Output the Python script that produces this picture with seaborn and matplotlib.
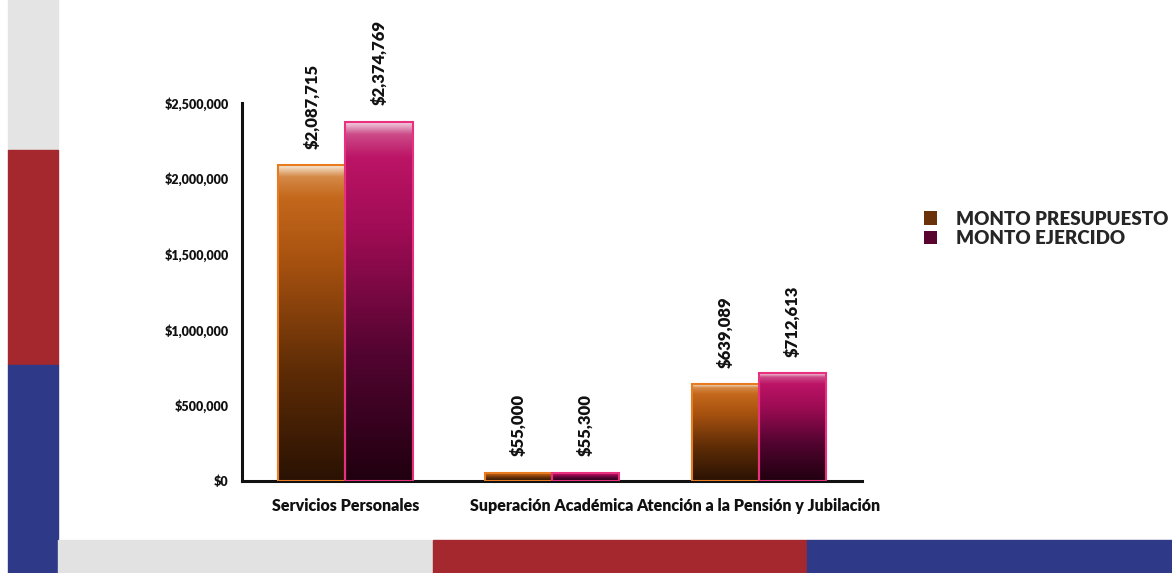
import numpy as np
import pandas as pd
import seaborn as sns
import matplotlib.pyplot as plt
from matplotlib.patches import Rectangle
from matplotlib.colors import LinearSegmentedColormap
from matplotlib.ticker import FuncFormatter, FixedLocator

categorias = ["Servicios Personales", "Superación Académica", "Atención a la Pensión y Jubilación"]
series = ["MONTO PRESUPUESTO", "MONTO EJERCIDO"]
presupuesto = [2087715, 55000, 639089]
ejercido = [2374769, 55300, 712613]

df = pd.DataFrame({
    "categoria": categorias * 2,
    "serie": [series[0]] * 3 + [series[1]] * 3,
    "monto": presupuesto + ejercido,
})

sns.set_style("white")
plt.rcParams["font.family"] = ["Lato", "DejaVu Sans"]

fig = plt.figure(figsize=(11.72, 5.73), dpi=100)
fig.patch.set_facecolor("white")

# franjas decorativas del fondo
for y0, h, c in [(0.738, 0.262, "#e4e4e4"), (0.363, 0.375, "#a5282e"), (0.0, 0.363, "#2e3a88")]:
    fig.add_artist(Rectangle((0.0068, y0), 0.0427, h, transform=fig.transFigure, color=c, zorder=0))
for x0, w, c in [(0.0495, 0.32, "#e2e2e2"), (0.3695, 0.3191, "#a5282e"), (0.6886, 0.3114, "#2e3a88")]:
    fig.add_artist(Rectangle((x0, 0.0), w, 0.0576, transform=fig.transFigure, color=c, zorder=0))

ax = fig.add_axes([0.2065, 0.1606, 0.529, 0.6597])
palette = {series[0]: "#b85a15", series[1]: "#b0105e"}
sns.barplot(data=df, x="categoria", y="monto", hue="serie", palette=palette,
            width=0.65, legend=False, ax=ax, saturation=1)

# degradado vertical dentro de cada barra
grads = [
    LinearSegmentedColormap.from_list("o", [(0, "#2a1203"), (0.35, "#5e2c06"), (0.7, "#a85210"),
                                            (0.9, "#c4681c"), (0.965, "#d58a48"), (1, "#f6e6d2")]),
    LinearSegmentedColormap.from_list("m", [(0, "#200010"), (0.35, "#520430"), (0.7, "#a00c55"),
                                            (0.9, "#bc1466"), (0.965, "#cc4a88"), (1, "#f4d8e6")]),
]
edges = ["#e87a20", "#e8307e"]
grad = np.linspace(0, 1, 256).reshape(-1, 1)
for cont, cmap, ec in zip(ax.containers, grads, edges):
    for bar in cont:
        x, w, h = bar.get_x(), bar.get_width(), bar.get_height()
        im = ax.imshow(grad, extent=[x, x + w, 0, h], origin="lower", cmap=cmap,
                       aspect="auto", zorder=2, interpolation="bicubic")
        im.set_clip_path(bar)
        bar.set_edgecolor(ec)
        bar.set_linewidth(1.5)
        bar.set_zorder(3)
        bar.set_facecolor("none")
    ax.bar_label(cont, labels=[f"${v:,.0f}" for v in cont.datavalues], rotation=90,
                 padding=12, fontsize=12, fontweight="heavy", color="#111111")

ax.set_xlim(-0.5, 2.5)
ax.set_ylim(0, 2500000)
ax.set_yticks([0, 500000, 1000000, 1500000, 2000000, 2500000])
ax.yaxis.set_major_formatter(FuncFormatter(lambda v, p: f"${v:,.0f}"))
ax.xaxis.set_minor_locator(FixedLocator([-0.5, 0.5, 1.5, 2.5]))
ax.tick_params(axis="x", which="major", length=0, pad=12, labelsize=11.5)
ax.tick_params(axis="x", which="minor", length=8, width=2, direction="out", color="#111111")
ax.tick_params(axis="y", length=6, width=2, direction="out", labelsize=9, color="#111111")
for lab in ax.get_xticklabels() + ax.get_yticklabels():
    lab.set_fontweight("heavy")
    lab.set_color("#111111")
ax.set_xlabel("")
ax.set_ylabel("")
sns.despine(ax=ax)
for s in ["left", "bottom"]:
    ax.spines[s].set_linewidth(2.2)
    ax.spines[s].set_color("#111111")

handles = [Rectangle((0, 0), 1, 1, facecolor=c, edgecolor="none") for c in ["#6a3208", "#5a0530"]]
leg = fig.legend(handles, series, loc="upper left", bbox_to_anchor=(0.774, 0.662),
                 frameon=False, handlelength=0.7, handleheight=0.7, handletextpad=1.0,
                 labelspacing=0.15, prop={"weight": "heavy", "size": 13.5})

plt.savefig("out.png", dpi=100)
